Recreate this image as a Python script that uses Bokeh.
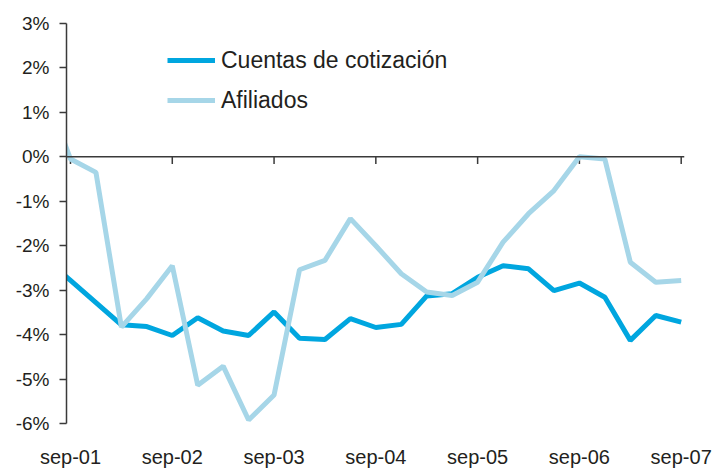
from bokeh.plotting import figure
from bokeh.models import (Range1d, FixedTicker, PrintfTickFormatter, Span, Legend, LegendItem)
from bokeh.embed import file_html
from bokeh.resources import INLINE

# Quarterly series (jun-01 .. sep-07), values in %
quarters = ["jun-01", "sep-01", "dic-01", "mar-02", "jun-02", "sep-02", "dic-02", "mar-03", "jun-03",
            "sep-03", "dic-03", "mar-04", "jun-04", "sep-04", "dic-04", "mar-05", "jun-05",
            "sep-05", "dic-05", "mar-06", "jun-06", "sep-06", "dic-06", "mar-07", "jun-07", "sep-07"]
cuentas = [-2.28, -2.78, -3.28, -3.78, -3.82, -4.02, -3.62, -3.92, -4.02, -3.49, -4.08, -4.11,
           -3.64, -3.84, -3.77, -3.13, -3.08, -2.71, -2.45, -2.52, -3.01, -2.84, -3.16, -4.13,
           -3.57, -3.72]
afiliados = [1.5, -0.05, -0.35, -3.83, -3.19, -2.45, -5.14, -4.71, -5.92, -5.36, -2.54, -2.33,
             -1.39, -2.0, -2.63, -3.04, -3.12, -2.82, -1.92, -1.28, -0.76, 0.0, -0.05, -2.37,
             -2.82, -2.78]
tick_labels = ["sep-01", "sep-02", "sep-03", "sep-04", "sep-05", "sep-06", "sep-07"]
y_ticks = [-6, -5, -4, -3, -2, -1, 0, 1, 2, 3]

x = [i - 1 for i in range(len(quarters))]          # quarter index, sep-01 = 0
tick_pos = [i for i, q in zip(x, quarters) if q in tick_labels]

FONT = "Liberation Sans"
TXT = "#231f20"
AX = "#3a3a3a"
C1 = "#00a6df"
C2 = "#a6d6e8"

p = figure(width=719, height=470, output_backend="svg", toolbar_location=None,
           x_range=Range1d(-0.157, 24.13), y_range=Range1d(-6, 3),
           min_border_left=66, min_border_right=35, min_border_top=23, min_border_bottom=46)
p.outline_line_color = None
p.grid.grid_line_color = None
p.background_fill_color = "white"

# y axis
ya = p.yaxis[0]
ya.ticker = FixedTicker(ticks=y_ticks)
ya.formatter = PrintfTickFormatter(format="%d%%")
ya.axis_line_color = AX
ya.axis_line_width = 1.5
ya.major_tick_line_color = AX
ya.major_tick_line_width = 1.5
ya.major_tick_in = 0
ya.major_tick_out = 7
ya.minor_tick_line_color = None
ya.major_label_standoff = 10
ya.major_label_text_font = FONT
ya.major_label_text_font_size = "19px"
ya.major_label_text_color = TXT

# x axis (labels only, at bottom)
xa = p.xaxis[0]
xa.ticker = FixedTicker(ticks=tick_pos)
xa.major_label_overrides = {t: l for t, l in zip(tick_pos, tick_labels)}
xa.axis_line_color = None
xa.major_tick_line_color = None
xa.minor_tick_line_color = None
xa.major_tick_in = 0
xa.major_tick_out = 0
xa.major_label_standoff = 22
xa.major_label_text_font = FONT
xa.major_label_text_font_size = "20px"
xa.major_label_text_color = TXT

# zero line with tick marks
p.add_layout(Span(location=0, dimension="width", line_color=AX, line_width=1.5))
p.segment(x0=tick_pos, y0=[0] * len(tick_pos), x1=tick_pos, y1=[-0.16] * len(tick_pos),
          line_color=AX, line_width=1.5)

r1 = p.line(x, cuentas, line_color=C1, line_width=5)
r2 = p.line(x, afiliados, line_color=C2, line_width=5)

legend = Legend(items=[LegendItem(label="Cuentas de cotización", renderers=[r1]),
                       LegendItem(label="Afiliados", renderers=[r2])],
                location=(101, 303), orientation="vertical")
legend.border_line_color = None
legend.background_fill_alpha = 0
legend.padding = 0
legend.margin = 0
legend.spacing = 0
legend.glyph_width = 48
legend.glyph_height = 40
legend.label_height = 40
legend.label_standoff = 6
legend.label_text_font = FONT
legend.label_text_font_size = "23px"
legend.label_text_color = TXT
p.add_layout(legend)

open("out.html", "w").write(file_html(p, INLINE))
